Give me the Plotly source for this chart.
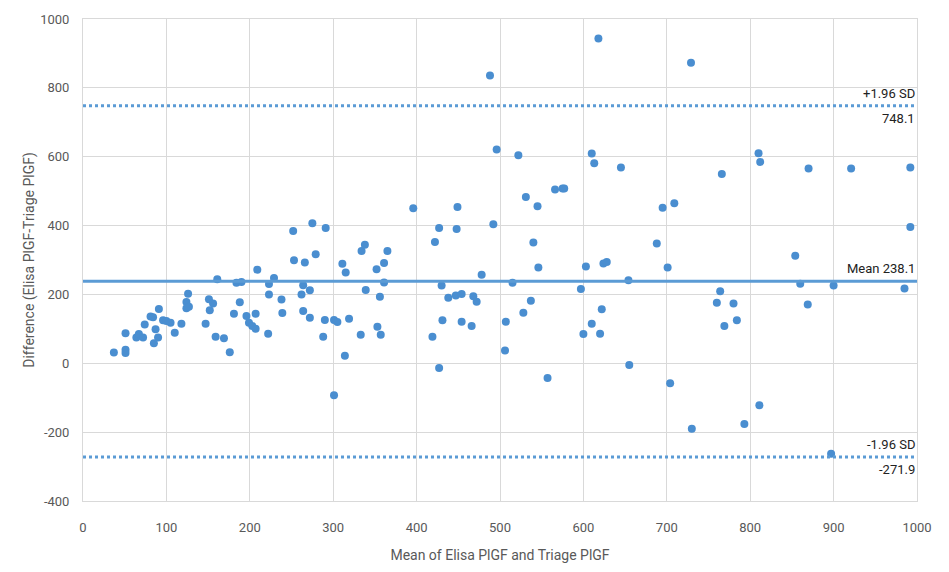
import plotly.graph_objects as go

# Bland-Altman data: mean of the two PlGF assays vs. their difference
mean_plgf = [
    37, 51, 51, 51, 64, 67, 72, 74, 81, 84, 87, 85, 90, 91, 96, 100, 105, 110, 118, 124,
    126, 124, 127, 147, 151, 152, 156, 159, 161, 169, 176, 181, 184, 188, 190, 196, 199, 203, 207, 207,
    209, 222, 223, 223, 229, 238, 239, 252, 253, 262, 264, 264, 266, 272, 272, 275, 279, 288, 291, 290,
    301, 305, 301, 311, 314, 315, 319, 333, 334, 338, 339, 352, 353, 356, 357, 361, 361, 365, 396, 419,
    422, 427, 427, 430, 431, 438, 447, 448, 449, 454, 454, 466, 468, 472, 478, 488, 492, 496, 506, 507,
    515, 522, 528, 531, 537, 540, 545, 546, 557, 566, 575, 577, 597, 600, 603, 610, 610, 613, 618, 620,
    622, 624, 628, 645, 654, 655, 688, 695, 701, 704, 709, 729, 730, 760, 764, 766, 769, 780, 784, 793,
    810, 812, 811, 854, 860, 869, 870, 897, 900, 921, 985, 992, 992,
]
diff_plgf = [
    31, 87, 39, 30, 75, 85, 75, 113, 136, 134, 99, 58, 75, 158, 125, 123, 118, 89, 115, 178,
    202, 160, 164, 115, 186, 154, 174, 77, 244, 73, 32, 144, 234, 177, 236, 137, 118, 108, 100, 144,
    272, 86, 200, 230, 248, 185, 146, 384, 299, 200, 152, 227, 293, 132, 212, 407, 317, 77, 393, 126,
    126, 120, -93, 289, 22, 264, 129, 83, 326, 344, 213, 273, 106, 193, 83, 235, 291, 326, 450, 77,
    352, 393, -14, 226, 125, 190, 197, 390, 454, 201, 121, 108, 195, 179, 257, 836, 404, 621, 37, 121,
    234, 604, 147, 483, 182, 351, 456, 278, -43, 505, 508, 508, 216, 85, 281, 609, 115, 581, 943, 86,
    157, 290, 294, 569, 241, -5, 348, 452, 278, -58, 465, 873, -190, 176, 209, 550, 108, 174, 125, -176,
    610, 585, -122, 312, 231, 171, 566, -263, 226, 566, 217, 569, 396,
]

mean_diff = 238.1
upper_loa = 748.1
lower_loa = -271.9

x_ticks = [0, 100, 200, 300, 400, 500, 600, 700, 800, 900, 1000]
y_ticks = [-400, -200, 0, 200, 400, 600, 800, 1000]
y_tick_text = ["-400", "-200", "0", "200", "400", "600", "800", "1000"]

blue = "#5B9BD5"
font_family = "Liberation Sans Narrow, Roboto, Liberation Sans, Arial, sans-serif"

fig = go.Figure()

fig.add_trace(go.Scatter(
    x=mean_plgf, y=diff_plgf, mode="markers",
    marker=dict(color="#4A8ED0", size=8, line=dict(width=0)),
    showlegend=False, hoverinfo="x+y",
))

# Mean difference and limits of agreement
fig.add_trace(go.Scatter(
    x=[0, 1000], y=[mean_diff, mean_diff], mode="lines",
    line=dict(color=blue, width=3), showlegend=False, hoverinfo="skip",
))
for level in (upper_loa, lower_loa):
    fig.add_trace(go.Scatter(
        x=[0, 1000], y=[level, level], mode="lines",
        line=dict(color=blue, width=3, dash="dot"), showlegend=False, hoverinfo="skip",
    ))

label_font = dict(family=font_family, size=13, color="#222222")
labels = [
    (mean_diff, f"Mean {mean_diff}", "bottom"),
    (upper_loa, "+1.96 SD", "bottom"),
    (upper_loa, f"{upper_loa}", "top"),
    (lower_loa, "-1.96 SD", "bottom"),
    (lower_loa, f"{lower_loa}", "top"),
]
for yv, txt, anchor in labels:
    fig.add_annotation(
        x=1000, y=yv, xref="x", yref="y", text=txt, showarrow=False,
        xanchor="right", yanchor=anchor, yshift=3 if anchor == "bottom" else -3,
        font=label_font,
    )

axis_common = dict(
    showgrid=True, gridcolor="#D9D9D9", gridwidth=1,
    zeroline=False, showline=True, linecolor="#D9D9D9", linewidth=1, mirror=True,
    ticks="", tickfont=dict(family=font_family, size=13, color="#595959"),
)

fig.update_layout(
    width=949, height=572,
    margin=dict(l=83, r=32, t=16, b=71),
    paper_bgcolor="white", plot_bgcolor="white",
    xaxis=dict(
        range=[0, 1000], tickvals=x_ticks, ticklabelstandoff=14,
        title=dict(text="Mean of Elisa PlGF and Triage PlGF",
                   font=dict(family=font_family, size=14, color="#595959"), standoff=16),
        **axis_common,
    ),
    yaxis=dict(
        range=[-400, 1000], tickvals=y_ticks, ticktext=y_tick_text, ticklabelstandoff=10,
        title=dict(text="Difference (Elisa PlGF-Triage PlGF)",
                   font=dict(family=font_family, size=14, color="#595959"), standoff=2),
        **axis_common,
    ),
)

fig.write_html("out.html")
